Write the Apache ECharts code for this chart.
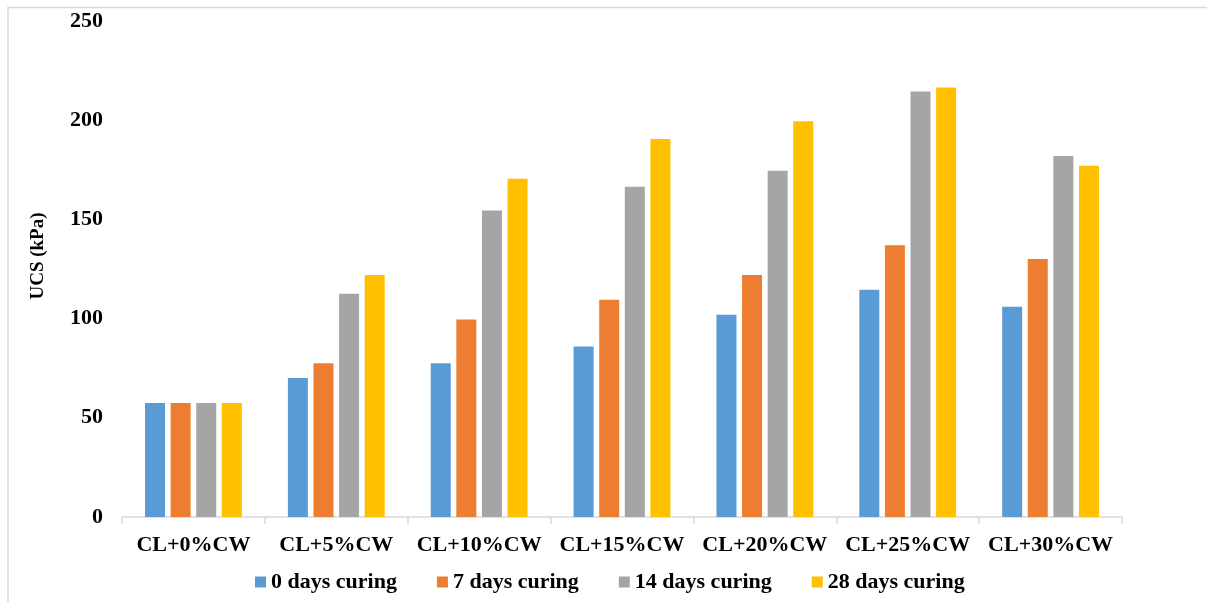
<!DOCTYPE html>
<html>
<head>
<meta charset="utf-8">
<script src="https://cdn.jsdelivr.net/npm/echarts@6/dist/echarts.min.js"></script>
<style>
  html, body { margin: 0; padding: 0; background: #ffffff; }
  #chart { width: 1207px; height: 602px; }
</style>
</head>
<body>
<div id="chart"></div>
<script>
// Mix designs (clay + % CW)
const categories = ['CL+0%CW', 'CL+5%CW', 'CL+10%CW', 'CL+15%CW', 'CL+20%CW', 'CL+25%CW', 'CL+30%CW'];

// Unconfined compressive strength (kPa) by curing period
const curing0 = [57.5, 70, 77.5, 86, 102, 114.5, 106];
const curing7 = [57.5, 77.5, 99.5, 109.5, 122, 137, 130];
const curing14 = [57.5, 112.5, 154.5, 166.5, 174.5, 214.5, 182];
const curing28 = [57.5, 122, 170.5, 190.5, 199.5, 216.5, 177];

const seriesNames = ['0 days curing', '7 days curing', '14 days curing', '28 days curing'];
const seriesColors = ['#5B9BD5', '#ED7D31', '#A5A5A5', '#FFC000'];

const FONT = '"Liberation Serif", "Times New Roman", serif';

const chart = echarts.init(document.getElementById('chart'), null, { renderer: 'canvas' });

const dataSets = [curing0, curing7, curing14, curing28];

chart.setOption({
  backgroundColor: '#ffffff',
  animation: false,
  graphic: [{
    type: 'rect',
    shape: { x: 8, y: 7.5, width: 1220, height: 620 },
    style: { fill: 'none', stroke: '#D9D9D9', lineWidth: 1.5 },
    silent: true
  }],
  grid: { left: 122, right: 85, top: 21, bottom: 85, containLabel: false },
  legend: {
    left: 250,
    top: 566,
    itemWidth: 11,
    itemHeight: 11,
    itemGap: 40,
    icon: 'rect',
    textStyle: { fontFamily: FONT, fontWeight: 'bold', fontSize: 22, color: '#000' },
    data: seriesNames
  },
  xAxis: {
    type: 'category',
    data: categories,
    axisLine: { lineStyle: { color: '#D9D9D9', width: 1.5 } },
    axisTick: { show: true, length: 7, lineStyle: { color: '#D9D9D9', width: 1.5 } },
    axisLabel: {
      margin: 17,
      fontFamily: FONT, fontWeight: 'bold', fontSize: 22, color: '#000',
      interval: 0
    },
    splitLine: { show: false }
  },
  yAxis: {
    type: 'value',
    min: 0,
    max: 250,
    interval: 50,
    name: 'UCS (kPa)',
    nameLocation: 'middle',
    nameRotate: 90,
    nameGap: 74,
    nameTextStyle: { fontFamily: FONT, fontWeight: 'bold', fontSize: 19, color: '#000', padding: [0, 0, 0, 26] },
    axisLine: { show: false },
    axisTick: { show: false },
    splitLine: { show: false },
    axisLabel: { margin: 19, fontFamily: FONT, fontWeight: 'bold', fontSize: 22, color: '#000' }
  },
  series: dataSets.map((values, i) => ({
    name: seriesNames[i],
    type: 'bar',
    data: values,
    barWidth: 20,
    barGap: '28%',
    itemStyle: { color: seriesColors[i] }
  }))
});
</script>
</body>
</html>
